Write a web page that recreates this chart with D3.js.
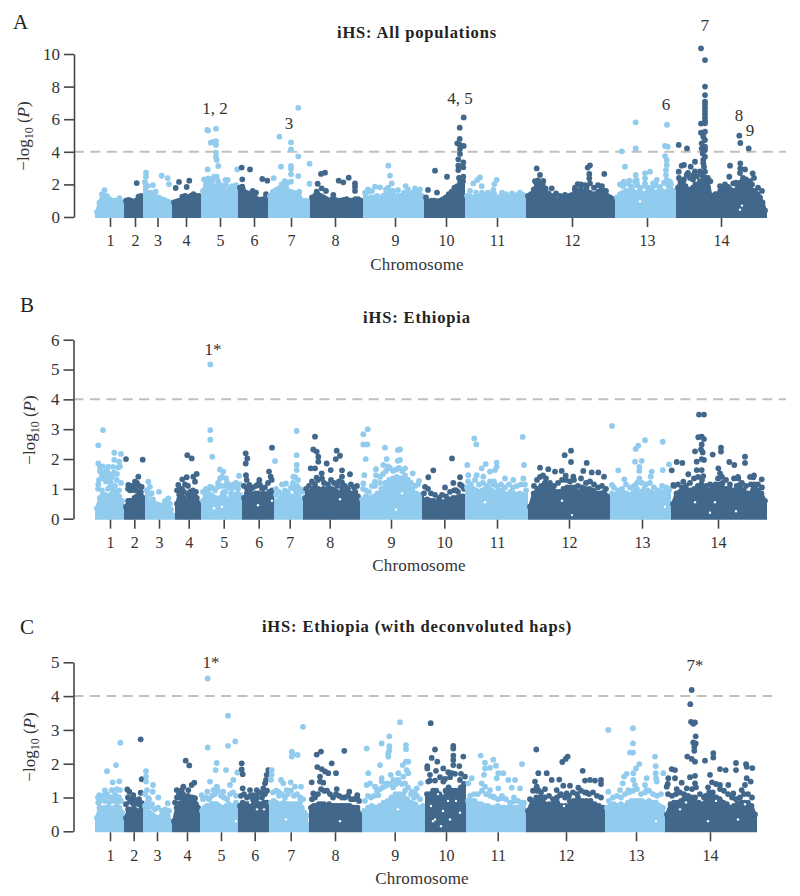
<!DOCTYPE html>
<html><head><meta charset="utf-8">
<script src="https://cdn.jsdelivr.net/npm/d3@7"></script>
<style>html,body{margin:0;padding:0;background:#fff}svg{display:block}text{font-family:"Liberation Serif",serif;fill:#333}</style>
</head><body><svg id="c" width="800" height="896"></svg>
<script>
const chromNames=["1","2","3","4","5","6","7","8","9","10","11","12","13","14"];
const boundsA=[5,34,53,82,111,148,178,220,273,334,375,436,525,586,677];
const boundsB=[5,34,55,85,111,152,184,213,270,332,375,438,520,581,677];
const boundsC=[5,34,53,82,110,148,179,219,272,335,376,436,515,575,667];
const ticksA=[20,45,67.5,96,130,164,201,245,305,356,407,482,557,631];
const ticksB=[20,44.3,69,98.7,133.7,168.7,199.7,239.7,301,354.3,407,479,552,628];
const ticksC=[20,43.7,67,97,131,164.7,200.7,245,304.7,356,407.7,476,546,620];
// upper edge of the dense cloud of SNPs, chromosome by chromosome
const massA=[
[.3,.9,1.4,1.65,1.3,1.1,1,1,1,1.15,.9],
[1,1.05,1,.9,1,1.25,1.3],
[2.15,1.9,1.5,1.4,1.2,1.2,1.1,1.05,.95,.9],
[.9,.95,1,1.25,1.3,1.2,1.3,1.4,1.3,1.3],
[1.6,2.0,2.0,1.85,1.9,1.9,1.9,1.65,1.55,1.7,1.7,1.7],
[1.8,1.7,1.5,1.45,1.4,1.3,1.1,1.05,1.1,1.4],
[1.3,1.55,1.65,1.75,2.0,2.2,2.1,1.55,1.5,1.45,1.55,1,1,.95],
[1.2,1.3,1.4,1.3,1.2,1.1,1,1.1,1.05,1,1,1.05,1.1,1,1,1.1,1.1,1],
[1.5,1.55,1.2,1.2,1.3,1.1,1.3,1.45,1.6,1.4,1.3,1.3,1.3,1.5,1.4,1.4,1.5,1.5,1.5,1.3],
[1.2,.95,1,1,.95,1,1.1,1.2,1.4,1.55,1.8,1.9,2.15,2.2],
[1.3,1.25,1.2,1.2,1.25,1.25,1.3,1.25,1.3,1.2,1.2,1.25,1.2,1.2,1.2,1.25,1.25,1.15,1.2,1.2],
[1.3,1.4,1.7,2,2,2,1.75,1.45,1.3,1.2,1,1.1,1.1,1.2,1.3,1.35,1.65,1.55,1.7,1.55,1.8,1.5,1.4,1.4,1.55,1.65,1.6,1.3,1.2,1.1],
[1.2,1.4,1.5,1.6,1.6,1.7,1.5,1.5,1.5,1.4,1.5,1.5,1.5,1.5,1.6,1.6,1.5,1.6,1.7,1.6],
[1.8,2.2,2.1,1.9,1.7,1.6,1.8,2,1.9,2.1,2.1,2.4,2.4,2.2,1.3,1.4,1.4,1.6,1.7,1.6,1.6,1.7,1.6,1.6,1.8,2.1,2.2,2.1,2,1.8,1.6,1.6,1.4,1.2,.9,.4]];
const massB=[
[.35,.7,.8,.8,.75,.8,.8,.8,.75,.6],
[.4,.6,.6,.6,.7,.75,.9,.9,.7],
[.95,.8,.6,.5,.4,.35,.3,.35,.4,.5,.45,.3,.1],
[.5,.8,.8,.7,.6,.8,.85,.8,.75,.7,.5],
[.6,.8,.85,.8,.75,.7,.6,.7,.85,.9,.6,.7,.75,.8,.85,.8],
[.7,.85,.85,.8,.85,.85,.8,.85,.8,.9,.95],
[.8,.6,.7,.8,.85,.75,.7,.75,1,.9,.75,.6],
[.7,.85,.9,1,1,1,.95,1,.95,1,1,.95,.9,.85,.9,.9,.85,.85,.85,.9,.75],
[.65,.75,.7,.75,.85,1,1.2,1.3,1.35,1.4,1.35,1.3,1.1,1,.85,.8],
[.85,.65,.6,.6,.55,.6,.55,.6,.65,.7,.7,.75,.75],
[1.05,1.05,1,.95,.9,.95,1,1,.95,.85,.95,.95,.85,.8,.9,.85,.8,.85,.8,.95],
[.4,.85,1,1.1,1.2,1.1,1,.9,.9,1,1.05,1.05,1.05,.9,.9,1,1,.95,.85,.85,.9,.75],
[.85,.8,.85,.9,.85,.8,.9,1,.9,1,.95,.9,.85,.9,.9,.9,.95],
[.5,.85,.9,.9,.95,.95,1,1.1,1.15,1,.95,1,1.15,1.15,1.2,1,1,.95,1.1,1.15,.95,.85,1.15,1.15,.95,.85,.6]];
const massC=[
[.4,.7,.65,.7,.7,.7,.65,.7,.7,.7,.55],
[.4,.65,.65,.65,.65,.6,.8,.8],
[.75,.7,.55,.5,.45,.4,.4,.45,.5,.5,.45,.3],
[.3,.7,.7,.75,.8,.8,.8,.8,.8,.7],
[.6,.7,.75,.75,.8,.8,.8,.75,.7,.7,.75,.8,.75,.75,.85],
[.75,.85,.8,.8,.8,.8,.85,.8,.8,.85,.85],
[.85,.9,.85,.8,.8,.85,.8,.8,.8,.8,.8,.75,.7,.55,.2],
[.7,.75,.75,.8,.8,.8,.75,.8,.75,.75,.75,.75,.75,.75,.75,.75,.7,.7,.7,.5],
[.6,.7,.75,.7,.75,.85,.9,1,1.1,1.1,1.1,.95,.85,.8,.7,.75],
[1.1,1.1,1.2,1.2,1.1,1,1.2,1.3,1.2,1.2,1.2,1.3,1.4],
[.9,.9,.9,.8,.8,.75,.75,.7,.7,.75,.7,.7,.7,.7,.7,.7,.75,.85],
[.6,.9,1,1,1,.8,.8,.85,.75,.75,.9,.9,1,.9,.9,.9,.8,.75,.7],
[.7,.75,.8,.75,.8,.75,.85,.9,.9,.9,.9,.85,.9,.85,.85,.75,.7],
[.5,.8,.85,.85,.9,1,.95,1,1,.85,.8,1.05,1.15,1.15,1,.95,.85,.8,.7,.75,.8,.85,.85,.85,.75,.5]];
// individual SNPs above the cloud: [position, -log10 P]
const snpsA=[[46.7,2.08],[56,2.72],[56,2.47],[63,1.96],[65.7,1.55],[71.7,2.53],[77.7,2.39],[79,2.02],[89,2.15],[85.7,1.78],[99.3,2.23],[96.7,1.84],
[117.3,5.34],[118,5.3],[126,5.42],[120.7,4.56],[123,4.6],[126,4.66],[126,4.42],[126,3.95],[126,3.7],[126.7,3.5],[128.3,3.13],[117.7,2.92],[118.3,2.37],[124,2.47],[126.7,2.47],[137.7,2.27],[135.5,2.27],[147.3,2.92],
[151.7,3.03],[160,2.92],[152.3,2.31],[152.3,1.86],[172.3,2.33],[177.3,2.23],[162.7,1.6],[166,1.5],
[183.7,2.39],[189.3,4.93],[191,3.09],[201,4.58],[201,4.15],[201,3.13],[201,2.94],[201,2.62],[201,2.17],[208.3,6.7],[208.3,3.72],[208.3,2.51],[219.5,3.27],[219.5,2.04],
[227.7,2.04],[231,2.64],[235,2.72],[231.7,1.76],[226.7,1.55],[236,1.6],[243.3,1.35],[248.7,2.23],[253.3,2.13],[258.7,2.41],[265,2.06],[265,1.86],[265,1.6],
[298.3,3.15],[300,2.54],[301.7,2.06],[298.3,1.8],[285,1.86],[290,1.82],[315.7,1.9],
[345,2.84],[357,2.47],[338,1.66],[347,1.5],[373.7,6.11],[369.7,5.48],[369.7,4.79],[367.3,4.52],[370,4.42],[373.7,4.36],[370,4.17],[370,3.87],[368.3,3.54],[373.3,3.35],[368.3,3.15],[373.3,3.05],[368.3,2.88],[373.3,2.47],[369,2.4],
[390,2.43],[387.3,2.27],[383.3,2.06],[391.7,1.9],[406.7,2.27],[404.3,2.02],[403.3,1.66],[430,1.5],
[446.7,2.98],[450,2.58],[453.3,2.21],[461.7,1.76],[466,1.45],[500,3.17],[497.7,3.03],[499.3,2.64],[499.3,2.37],[500,2.06],[514.3,2.64],[487.7,2.02],
[531.7,4.03],[545.7,5.81],[545.7,4.21],[535,3.09],[545.7,2.58],[546.7,2.27],[555,2.68],[560,2.78],[555,2.37],[555,2.06],[566.7,2.27],[539.3,2.23],[534,2.17],[577,5.66],[575,4.36],[577.7,4.31],[575,3.74],[576.7,3.5],[576.7,3.19],[576,2.88],[576,2.58],[576.7,2.27],[580,2.17],[546.7,1.96],[563,2.06],
[588.7,4.42],[597,4.21],[611,10.35],[615,9.63],[615,8],[615,7.48],[615,7.07],[615,6.9],[615,6.7],[615,6.5],[615,6.3],[615,6.1],[615,5.9],[611,5.73],[615,5.75],[611,5.17],[615,5.23],[613.3,4.93],[615,4.72],[611.7,4.52],[615,4.31],[611.7,4.2],[615,4.11],[612.7,3.9],[615,3.7],[613.3,3.5],[613.3,3.29],[614,3.09],[615,2.78],[613.3,2.47],[649.3,4.99],[650.3,4.54],[658.7,4.21],[640,3.15],[650.3,3.29],[650.3,2.98],[655,2.92],[662.7,2.68],[639.3,2.47],[643.3,2.06],[605,3.39],[600.7,3.09],[594,3.19],[591.7,3.15],[588.7,2.78],[596.7,2.58],[603.3,2.58],[592.7,2.17]];
const fringeA=[[114,2.3],[117,2.2],[122,2.2],[128,2.2],[131,1.95],[136,1.95],[142,1.9],[146,1.95],
[380,1.6],[386,1.5],[392,1.5],[398,1.5],[404,1.45],[412,1.5],[416,1.4],[422,1.45],[428,1.4],[433,1.35],
[278,1.7],[282,1.6],[308,1.65],[318,1.7],[325,1.75],[330,1.7],[296,1.7],[303,1.6],
[530,2],[533,1.9],[537,2.05],[541,1.9],[545,2.2],[547,2.05],[550,1.8],[555,1.9],[558,1.8],[562,1.75],[566,1.95],[570,1.85],[574,2.1],[578,1.95],[581,2],
[589,2.4],[592,2.1],[590,1.9],[594,2.3],[598,2.7],[600,2.4],[603,2.3],[605,2.8],[607,2.5],[610,2.8],[612,2.6],[610,2.2],[630,1.9],[635,2],[638,1.85],[646,2.1],[650,2.7],[653,2.4],[656,2.3],[660,2.2],[664,2.4],[662,2],[668,1.8],[672,1.6],
[445,2.2],[448,2.25],[452,2],[485,1.8],[491,2],[495,1.95],[504,1.8],[508,1.95],[512,1.9],[516,1.6],[475,1.35],[470,1.3]];
const snpsB=[[13,2.97],[8.3,2.46],[24.3,2.21],[31,2.17],[29.3,1.91],[8.3,1.85],[10,1.74],[18.3,1.74],[24.3,1.97],[23,1.74],[11.7,1.52],[18.3,1.46],[20,1.3],[26.7,1.3],[8.3,1.15],[20,1.07],[26.7,.9],
[36,2],[52.7,1.98],[48.3,1.41],[38.3,1.13],[45,1.24],[51.7,1.07],[43.3,.96],
[58.3,1.24],[60,1.07],[61.7,.85],[69,.9],[78.3,.68],[76.7,.51],[68.3,.46],
[97.3,2.13],[101.7,2.02],[106.7,1.5],[103.3,1.41],[105,1.24],[96.7,1.39],[92.3,1.32],[88.3,1.13],
[120.3,5.17],[120.3,2.97],[120.3,2.65],[122.3,2.08],[130,1.65],[133.3,1.58],[130,1.35],[136,1.35],[149,1.44],[140,1.13],[147,1.07],[120,1.07],[128,1.07],
[155.7,2.19],[157.3,2.02],[155.7,1.85],[182,2.38],[179,1.58],[180.7,1.41],[181.7,1.3],[156,1.46],[156.7,1.3],[169.3,1.3],[170,1.13],[159.3,1.13],
[185,1.93],[206.7,2.94],[206.7,2.13],[206.7,1.8],[206.7,1.63],[203.3,1.41],[196,1.18],
[225,2.75],[223.3,2.32],[226.7,2.25],[228.3,2.08],[228.3,1.91],[236.7,1.85],[246.7,2.28],[250,2.11],[245.7,2],[252,1.62],[240.7,1.63],[252,1.41],[252,1.22],[260,1.49],[225,1.69],[220.7,1.69],[231.7,1.52],[226.7,1.38],
[273.3,2.83],[277.7,3],[273.3,2.49],[277.3,2.49],[275.7,2],[295,2.38],[307.7,2.3],[307.7,1.94],[296.7,2],[293.3,1.8],[286,1.66],[286,1.46],[285,1.24],[274.3,1.46],[273.3,1.18],[310,2.32],[310,1.97],[315,1.69],[322.7,1.52],[329,1.27],
[362,2.02],[343.3,1.62],[338.3,1.39],[370,1.39],[363.3,1.2],[370,1.15],[355,1.05],[335,1.07],[366,.96],
[384.3,2.69],[386.3,2.49],[432.7,2.74],[377.3,1.8],[434,1.8],[395.7,1.83],[391.7,1.69],[406.7,1.88],[406.7,1.74],[405,1.63],[400,1.58],[393.3,1.41],[386.7,1.46],[378.3,1.46],[415,1.35],[423.3,1.3],[433.3,1.35],[403,1.15],
[474.7,2.13],[481,2.28],[481,1.9],[496.7,1.87],[450,1.71],[458.3,1.66],[465,1.58],[471.7,1.6],[493.3,1.6],[501.7,1.55],[508.3,1.55],[514,1.41],[475.7,1.44],[483.3,1.41],[491,1.35],
[522,3.11],[555,2.63],[548.3,2.45],[545.7,2.34],[572.7,2.58],[545,1.91],[551.7,1.94],[549.3,1.74],[549.3,1.6],[528.3,1.62],[579,1.82],[581.7,1.62],[572.7,1.63],[561.7,1.58],[560.7,1.41],[534.3,1.32],[522,1.13],[549.3,1.35],
[609,3.49],[614,3.49],[608.3,2.73],[611.7,2.75],[614,2.67],[611.7,2.49],[611,2.32],[605,2.26],[612.7,2.22],[611.7,2],[606.7,1.91],[614,1.97],[606.7,1.63],[611.7,1.63],[613.3,1.43],[598.3,1.49],[586.7,1.9],[592.3,1.87],[622.7,2.15],[631,2.38],[631,2.25],[639.3,1.9],[644.3,1.8],[655,2.08],[655,1.87],[628.3,1.69],[630,1.52],[648.3,1.35],[671.7,1.32],[663.3,1.39],[583.3,1.13],[593.3,1.24]];
const fringeB=[[8,1],[9,1.3],[10,1.6],[12,1.45],[13,1.75],[14,1.35],[15,1.55],[16,1.25],[17,1.6],[19,1.5],[21,1.2],[22,1.4],[24,1.55],[25,1.1],[27,1.5],[28,1.72],[30,1.75],[31,1.2],[12,.95],[18,1],[23,.95],[29,.95],
[38,1],[40,.95],[42,1.1],[44,1.05],[46,.95],[49,1.1],[47,1.2],
[57,.95],[59,.8],[63,.65],[66,.5],[72,.45],[75,.6],[80,.5],
[87,.95],[90,.95],[92,1],[95,1.15],[98,1.1],[100,.9],[103,.95],[106,.9],[94,.9],
[113,.9],[116,1],[119,1],[122,1.05],[125,.95],[128,1.2],[131,1.1],[132,1.4],[135,1.1],[137,1.2],[139,1.05],[142,1],[144,1.15],[146,1.2],[148,1],[150,1.15],[134,.9],[141,.85],
[154,1.1],[157,1],[160,.95],[163,1.05],[166,1.1],[172,1],[175,1.05],[178,1.2],[168,1.15],
[186,1],[189,.9],[192,1.15],[195,.95],[198,.9],[201,1.05],[203,1.2],[205,1.4],[208,1.3],[207,1.1],[210,1],[212,.9],
[216,1],[219,1.1],[222,1.25],[225,1.15],[228,1.3],[232,1.35],[234,1.2],[238,1.15],[241,1.3],[244,1.2],[247,1.1],[249,1.25],[252,1.05],[255,1.1],[258,1],[261,1.15],[264,1.05],[267,1.1],
[273,1],[276,.95],[279,.9],[282,1.1],[290,1.4],[293,1.5],[296,1.6],[298,1.75],[300,1.7],[303,1.6],[306,1.65],[309,1.7],[312,1.6],[315,1.45],[318,1.3],[321,1.2],[325,1.1],[328,1.15],[290,1.2],[285,1.1],
[338,1],[341,.85],[345,.8],[349,.7],[352,.8],[356,.75],[360,.9],[364,.95],[368,.9],[372,1.1],[374,1],
[378,1.25],[381,1.15],[385,1.3],[389,1.15],[393,1.2],[397,1.1],[400,1.25],[404,1.25],[407,1.1],[411,1.15],[415,1.05],[419,1.15],[423,1.05],[427,1.1],[431,1.15],[435,1.15],
[444,1.1],[447,1.3],[450,1.4],[453,1.45],[456,1.35],[460,1.2],[464,1.1],[468,1.2],[472,1.3],[476,1.3],[480,1.25],[484,1.3],[488,1.1],[492,1.05],[496,1.2],[500,1.25],[504,1.15],[508,1.05],[512,1.1],[516,1],
[524,1.05],[528,.95],[532,1],[536,1.15],[540,1.05],[544,1.1],[547,1.2],[552,1.2],[556,1.15],[560,1.2],[564,1.05],[568,.95],[572,1.1],[576,1.05],[579,1],
[584,1.1],[588,1.15],[592,1.05],[596,1.1],[600,1.2],[604,1.35],[608,1.4],[612,1.3],[616,1.1],[620,1.15],[624,1.1],[628,1.35],[632,1.4],[636,1.3],[640,1.15],[644,1.35],[648,1.4],[652,1.2],[656,1.1],[660,1.4],[664,1.45],[668,1.15],[672,1.05]];
const snpsC=[[17,1.78],[30.3,2.62],[26,1.96],[22.7,1.45],[29.3,1.48],[9.3,1.07],[15,1.21],[21.7,1.22],[26.7,1.25],[30,1.22],[18.3,1.03],[25,1],[28.3,1],[8.3,.85],
[50.7,2.72],[51.7,1.54],[50.7,1.14],[37.3,1.24],[39.3,1.17],[43.3,1.07],[45,.93],[41.7,.93],[51.7,.83],
[56,1.78],[56,1.62],[56,1.47],[63,1.37],[62.7,1.17],[68.3,1],[77.7,.83],[57,1.22],[58.3,.98],[60,.73],
[95.7,2.09],[99.3,1.95],[104.3,1.44],[101.7,1.37],[93.3,1.32],[86.7,1.22],[91.7,1.22],[98.3,1.22],[105,.98],[93.3,.93],[90,.83],[95,.88],
[117.7,4.52],[138,3.42],[117.7,2.48],[138,2.53],[145.3,2.66],[126.7,2.02],[125.7,1.81],[136,1.81],[147.3,1.74],[120,1.47],[143.3,1.52],[140,1.37],[126.7,1.32],[111.7,1.07],[117.3,1.17],[123.3,1.22],[133.3,1.17],
[151.7,2.01],[151.7,1.83],[152.7,1.69],[152.7,1.27],[178.3,1.81],[176.7,1.67],[176,1.52],[175,1.42],[173.3,1.27],[160,1.22],[166.7,1.22],[171.7,1.12],[163.3,1.07],[166.7,.98],
[181.7,1.81],[181.7,1.67],[181,1.52],[213,3.09],[201.7,2.36],[202.7,2.29],[201.7,2.21],[207.7,2.26],[191,1.52],[193.3,1.42],[200.7,1.45],[205,1.32],[211,1.32],[196.7,1.22],[188.3,1.17],[210,.85],[216.7,.46],
[226.7,2.27],[231,2.36],[254.3,2.38],[241.7,2.01],[246,1.72],[227.3,1.9],[231.7,1.84],[235,1.77],[238.3,1.72],[230,1.62],[221.7,1.45],[230,1.47],[233.3,1.44],[246.7,1.25],[259.3,1.17],[267.3,1.07],[223.3,1.12],
[276.7,2.45],[291.7,2.6],[299.3,2.81],[310,3.23],[278.3,1.72],[290,1.96],[299.3,2.52],[299.3,2.4],[298.3,2.31],[298.3,2.21],[300.7,1.67],[291.7,1.57],[285,1.32],[280,1.42],[276.7,1.37],[288.3,1.07],[291.7,1.47],[296.7,1.42],[303.3,1.52],[308.3,1.72],[308.3,1.52],[316,2.55],[316,2.43],[316,2.06],[312.7,1.96],[318.3,2.06],[316.7,1.81],[318.3,1.72],[313.3,1.62],[330.7,1.42],[326.7,1.27],[325,1.12],[321.7,1.17],[315,1.42],
[340.7,3.2],[345,2.42],[363.3,2.53],[363.3,2.45],[341.7,2.17],[347.3,2.06],[363.3,2.24],[363.3,2.11],[373.3,2.21],[337.3,1.93],[337.3,1.86],[346,1.79],[363.3,1.96],[369.3,1.93],[353.3,1.86],[358.3,1.75],[361.7,1.72],[340,1.67],[375,1.62],[370,1.52],[338.3,1.47],[353.3,1.47],
[390.7,2.24],[403.3,2.12],[395,2.03],[432,1.99],[406,1.94],[400,1.88],[395,1.86],[408.3,1.72],[413.3,1.72],[394,1.67],[406.7,1.57],[418.3,1.52],[425,1.52],[381.7,1.57],[378.3,1.42],[391.7,1.42],[395,1.32],[400,1.22],[408.3,1.27],[421.7,1.29],[430,1.27],[403.3,1.03],[411.7,.98],[423.3,.88],
[446.3,2.42],[456.7,1.72],[448.3,1.72],[477.7,2.21],[475.7,2.14],[472.3,2.05],[492.7,1.79],[461.7,1.52],[469.3,1.53],[473.3,1.35],[480,1.35],[488.3,1.29],[495,1.5],[500,1.52],[505,1.5],[511,1.52],[511,1.4],[466.7,1.22],[470,1.07],[476.7,1.12],[496.7,1.14],[445,1.47],[446.7,1.32],[448.3,1.22],
[518.3,3],[543,3.05],[543,2.6],[540,2.33],[543,2.33],[565,2.21],[565.7,1.93],[549.3,1.99],[546,1.86],[543.3,1.72],[565.7,1.72],[566,1.57],[566.7,1.47],[573.3,1.72],[536.7,1.7],[534,1.62],[532.7,1.42],[543.3,1.52],[545,1.37],[556.7,1.57],[555,1.37],[556.7,1.22],[538.3,1.22],[530,1.22],[518.3,1.17],[576.7,1.32],
[601.7,4.18],[600.3,3.76],[601,3.24],[605,3.22],[603.3,3.18],[605.7,2.81],[603.3,2.63],[605.7,2.6],[604.3,2.5],[604.3,2.38],[597.3,2.21],[601.7,2.14],[605,2.06],[615,2.09],[623.3,2.31],[623.3,2.18],[630,1.84],[635.7,1.81],[646,2.02],[646,1.81],[656,1.99],[656.7,1.91],[662.3,1.87],[581.7,1.84],[585,1.81],[578.3,1.57],[585,1.57],[577.7,1.4],[591.7,1.44],[586.7,1.25],[596.7,1.27],[605,1.64],[600,1.6],[605,1.42],[620,1.67],[656.7,1.57],[660.7,1.47],[655,1.37],[630,1.37],[638.3,1.37],[651.7,1.22],[643.3,1.12]];
const fringeC=[[8,1],[9,.85],[11,.95],[13,1.05],[15,.9],[17,1.1],[19,.85],[21,1],[23,.9],[25,1.1],[27,.85],[29,1],[31,.9],
[36,.8],[38,1],[40,.9],[42,.85],[44,.8],[47,.85],[49,.95],[50,.85],
[55,1.1],[57,.85],[59,.95],[62,.8],[65,.65],[68,.7],[72,.6],[75,.65],[79,.6],
[85,.85],[87,1],[89,1.1],[91,1],[93,1.1],[96,1],[98,1.05],[100,.95],[102,1],[104,.9],[106,.8],
[113,.95],[116,1],[119,.95],[122,1.05],[125,1.1],[128,1.2],[131,1.05],[134,1],[137,.95],[140,1.1],[143,1.15],[146,1.05],[127,1.3],
[151,1.05],[154,1.1],[157,1],[160,1.05],[163,.95],[166,1.05],[169,1.15],[172,1],[175,1.1],[177,1.2],
[183,1.15],[186,1.2],[189,1.05],[192,1.1],[195,1],[198,1.1],[201,1.2],[204,1.05],[207,1.1],[210,1],[213,.95],
[222,.95],[225,1],[228,1.1],[231,1.25],[234,1.2],[237,1.2],[240,1.1],[243,1],[246,1.1],[249,1.05],[252,1],[255,1],[258,1.05],[261,.95],[264,.95],[267,1],[269,.9],
[275,.9],[278,1.05],[281,1],[284,1.05],[287,1.2],[290,1.25],[293,1.3],[296,1.35],[300,1.4],[303,1.3],[306,1.4],[309,1.45],[312,1.4],[315,1.2],[318,1.3],[321,1.1],[324,1],[327,1.05],[330,.95],
[340,1.5],[345,1.5],[350,1.6],[355,1.55],[360,1.6],[365,1.7],[371,1.7],
[380,1.05],[384,1.1],[388,1.1],[392,1.2],[396,1.1],[400,1.05],[404,1],[408,.95],[412,1.05],[416,.95],[420,.85],[424,1],[428,.9],[432,.85],
[440,.95],[443,1.2],[447,1.2],[451,1.15],[455,1.25],[459,1.05],[463,.95],[467,1],[471,1.1],[475,1],[479,1.05],[483,1.15],[487,1.1],[491,1.2],[495,1.15],[499,1.1],[503,1.15],[507,1.05],[511,1],
[519,.9],[523,1],[527,1.05],[531,1],[535,1.1],[539,1.15],[543,1.2],[547,1.25],[551,1.1],[555,1.15],[559,1.2],[563,1.1],[567,1.05],[571,1.1],
[578,1.1],[582,1.05],[586,1.1],[590,1.15],[594,1.1],[598,1.05],[602,1.25],[606,1.3],[610,1.1],[614,1],[618,1.3],[622,1.45],[626,1.4],[630,1.25],[634,1.2],[638,1.1],[642,1],[646,.95],[650,1],[654,1.1],[658,1.1],[662,1]];
// small holes visible in the cloud of SNPs
const holesA=[[550,.95],[650,.45],[652,.7]];
const holesB=[[124,.35],[132,.4],[168,.45],[182,.6],[250,.65],[395,.55],[472,.6],[482,.12],[605,.55],[620,.2],[625,.55],[646,.25],[575,.4],[306,.3],[312,.85]];
const holesC=[[146,.3],[160,.85],[167,.65],[174,.65],[196,.35],[250,.3],[308,.65],[345,.35],[360,.35],[351,.15],[366,.9],[353,.6],[341,.75],[343,.3],[358,.9],[370,.55],[348,1.1],[338,1.25],[566,.3],[618,.3],[648,.35],[655,.8],[626,.9],[640,.9],[596,.85],[590,.65],[474,.75]];
const annotA=[["1, 2",125,6.3],["3",199,5.4],["4, 5",370,6.93],["6",576,6.56],["7",614.7,11.4],["8",649,5.9],["9",660,4.97]];
const annotB=[["1*",123,5.48]];
const annotC=[["1*",121,4.83],["7*",605,4.75]];
const threshold=4;

const svg=d3.select("#c");
const LIGHT="#91CBEE",DARK="#41678B",INK="#4a4545",R=2.9;
const x=d3.scaleLinear().domain([0,710]).range([90,800]);
const fs=16;

function panel(cfg){
  const y=d3.scaleLinear().domain([0,cfg.yMax]).range([cfg.y0,cfg.yTop]);
  const g=svg.append("g");
  g.append("line").attr("x1",x(cfg.axisPos)).attr("x2",cfg.dashEnd)
    .attr("y1",y(threshold)).attr("y2",y(threshold))
    .attr("stroke","#c6bfb9").attr("stroke-width",2).attr("stroke-dasharray","10 6.4");
  const area=d3.area().x(d=>x(d[0])).y0(y(0)+1).y1(d=>y(d[1]));
  cfg.mass.forEach((h,i)=>{
    const a=cfg.bounds[i],b=cfg.bounds[i+1],col=i%2?DARK:LIGHT;
    const pos=d3.scaleLinear().domain([0,h.length-1]).range([a,b]);
    const pts=h.map((v,k)=>[pos(k),v]);
    const c=g.append("g");
    c.append("path").attr("d",area(pts)).attr("fill",col);
    const inner=d3.scaleLinear().domain([0,h.length-1]).range([a+2,b-2]);
    c.selectAll("circle.m").data(h).join("circle").attr("class","m")
      .attr("cx",(d,k)=>x(inner(k))).attr("cy",d=>y(d)).attr("r",R).attr("fill",col);
    c.selectAll("circle.s").data(cfg.snps.filter(d=>d[0]>=a&&d[0]<b)).join("circle").attr("class","s")
      .attr("cx",d=>x(d[0])).attr("cy",d=>y(d[1])).attr("r",R).attr("fill",col);
  });
  g.selectAll("circle.h").data(cfg.holes).join("circle").attr("class","h")
    .attr("cx",d=>x(d[0])).attr("cy",d=>y(d[1])).attr("r",1.2).attr("fill","#fff");
  const ya=g.append("g").attr("transform",`translate(${x(cfg.axisPos)},0)`)
    .call(d3.axisLeft(y).tickValues(cfg.yTicks).tickFormat(d3.format("d")).tickSize(10).tickPadding(4).tickSizeOuter(0));
  ya.select(".domain").attr("stroke",INK).attr("stroke-width",1.6);
  ya.selectAll(".tick line").attr("stroke",INK).attr("stroke-width",1.6);
  ya.selectAll("text").attr("font-size",fs+1).attr("font-family","Liberation Serif").style("fill","#333");
  const xa=g.append("g").attr("transform",`translate(0,${cfg.y0+1})`)
    .call(d3.axisBottom(x).tickValues(cfg.ticks).tickFormat((d,i)=>chromNames[i]).tickSize(9).tickPadding(8).tickSizeOuter(0));
  xa.select(".domain").remove();
  xa.selectAll(".tick line").attr("stroke",INK).attr("stroke-width",1.6);
  xa.selectAll("text").attr("font-size",fs).attr("font-family","Liberation Serif").style("fill","#333");
  g.append("text").attr("x",cfg.xLabelX).attr("y",cfg.xLabelY).attr("text-anchor","middle").attr("font-size",17).attr("letter-spacing",.2).text("Chromosome");
  g.append("text").attr("x",cfg.titleX).attr("y",cfg.titleY).attr("text-anchor","middle").attr("font-size",16.5)
    .attr("font-weight","bold").attr("letter-spacing",.85).style("fill","#222").text(cfg.title);
  g.append("text").attr("x",cfg.letterX).attr("y",cfg.letterY).attr("font-size",21).style("fill","#222").text(cfg.letter);
  const yl=g.append("text").attr("transform",`translate(${cfg.ylX},${cfg.ylY}) rotate(-90)`).attr("text-anchor","middle").attr("font-size",fs+1);
  yl.append("tspan").text("−log");
  yl.append("tspan").attr("font-size",12).attr("dy",4).text("10");
  yl.append("tspan").attr("dy",-4).text(" (");
  yl.append("tspan").attr("font-style","italic").text("P");
  yl.append("tspan").text(")");
  g.selectAll("text.an").data(cfg.annot).join("text").attr("class","an")
    .attr("x",d=>x(d[1])).attr("y",d=>y(d[2])).attr("text-anchor","middle").attr("font-size",fs+1).text(d=>d[0]);
}

panel({mass:massA,bounds:boundsA,snps:snpsA.concat(fringeA),holes:holesA,ticks:ticksA,annot:annotA,yMax:10,yTicks:[0,2,4,6,8,10],y0:217,yTop:54,axisPos:-16,dashEnd:786,
  title:"iHS: All populations",titleX:417,titleY:38,letter:"A",letterX:13,letterY:29,xLabelX:417,xLabelY:270,ylX:29,ylY:136});
panel({mass:massB,bounds:boundsB,snps:snpsB.concat(fringeB),holes:holesB,ticks:ticksB,annot:annotB,yMax:6,yTicks:[0,1,2,3,4,5,6],y0:518.7,yTop:339.7,axisPos:-16.5,dashEnd:786,
  title:"iHS: Ethiopia",titleX:417,titleY:323,letter:"B",letterX:20,letterY:312,xLabelX:419,xLabelY:571,ylX:35,ylY:430});
panel({mass:massC,bounds:boundsC,snps:snpsC.concat(fringeC),holes:holesC,ticks:ticksC,annot:annotC,yMax:5,yTicks:[0,1,2,3,4,5],y0:831.3,yTop:662.3,axisPos:-16.5,dashEnd:775,
  title:"iHS: Ethiopia (with deconvoluted haps)",titleX:417,titleY:632,letter:"C",letterX:20,letterY:634,xLabelX:422,xLabelY:884,ylX:35,ylY:747});
</script></body></html>
